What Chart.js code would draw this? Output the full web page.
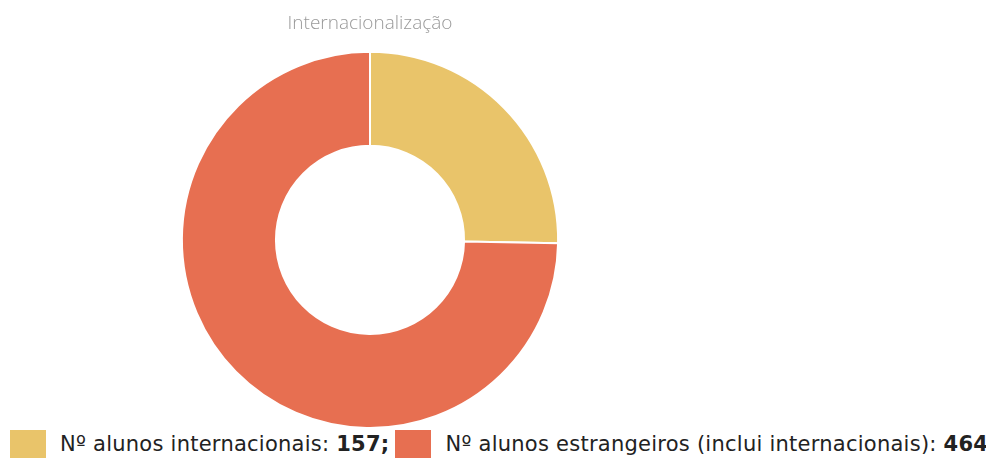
<!DOCTYPE html>
<html>
<head>
<meta charset="utf-8">
<script src="https://cdn.jsdelivr.net/npm/chart.js@4"></script>
<style>
  html, body { margin: 0; padding: 0; background: #fff; }
  body { width: 986px; height: 458px; position: relative; overflow: hidden; }
  #wrap { position: absolute; left: 0; top: 0; width: 740px; height: 430px; }
  #legend { position: absolute; left: 10px; top: 430px; height: 28px; display: flex; align-items: center;
    font-family: "DejaVu Sans", sans-serif; font-size: 21px; color: #222; white-space: nowrap;
    letter-spacing: 0.25px; }
  #legend .box { width: 36px; height: 28px; display: inline-block; margin-right: 14px; }
  #legend .item { display: flex; align-items: center; margin-right: 6px; }
</style>
</head>
<body>
<div id="wrap"><canvas id="chart"></canvas></div>
<div id="legend"></div>
<script>
const labels = ["Nº alunos internacionais", "Nº alunos estrangeiros (inclui internacionais)"];
const values = [157, 464];
const colors = ["#E9C46A", "#E76F51"];

const ctx = document.getElementById("chart").getContext("2d");
new Chart(ctx, {
  type: "doughnut",
  data: {
    labels: labels,
    datasets: [
      {
        data: values,
        backgroundColor: colors,
        borderColor: "#fff",
        borderWidth: 2,
      },
    ],
  },
  options: {
    responsive: true,
    maintainAspectRatio: false,
    animation: false,
    cutout: "50%",
    layout: { padding: { bottom: 1 } },
    plugins: {
      legend: { display: false },
      tooltip: { enabled: false },
      title: {
        display: true,
        text: "Internacionalização",
        color: "#999",
        font: { family: "'Open Sans', sans-serif", size: 19, weight: "300" },
        padding: { top: 12, bottom: 16 },
      },
    },
  },
});

// legenda em HTML com valores a negrito
const legend = document.getElementById("legend");
labels.forEach((label, i) => {
  const item = document.createElement("span");
  item.className = "item";
  const sep = i < labels.length - 1 ? ";" : "";
  item.innerHTML =
    '<span class="box" style="background:' + colors[i] + '"></span>' +
    label + ':&nbsp;<b>' + values[i] + sep + '</b>';
  legend.appendChild(item);
});
</script>
</body>
</html>
